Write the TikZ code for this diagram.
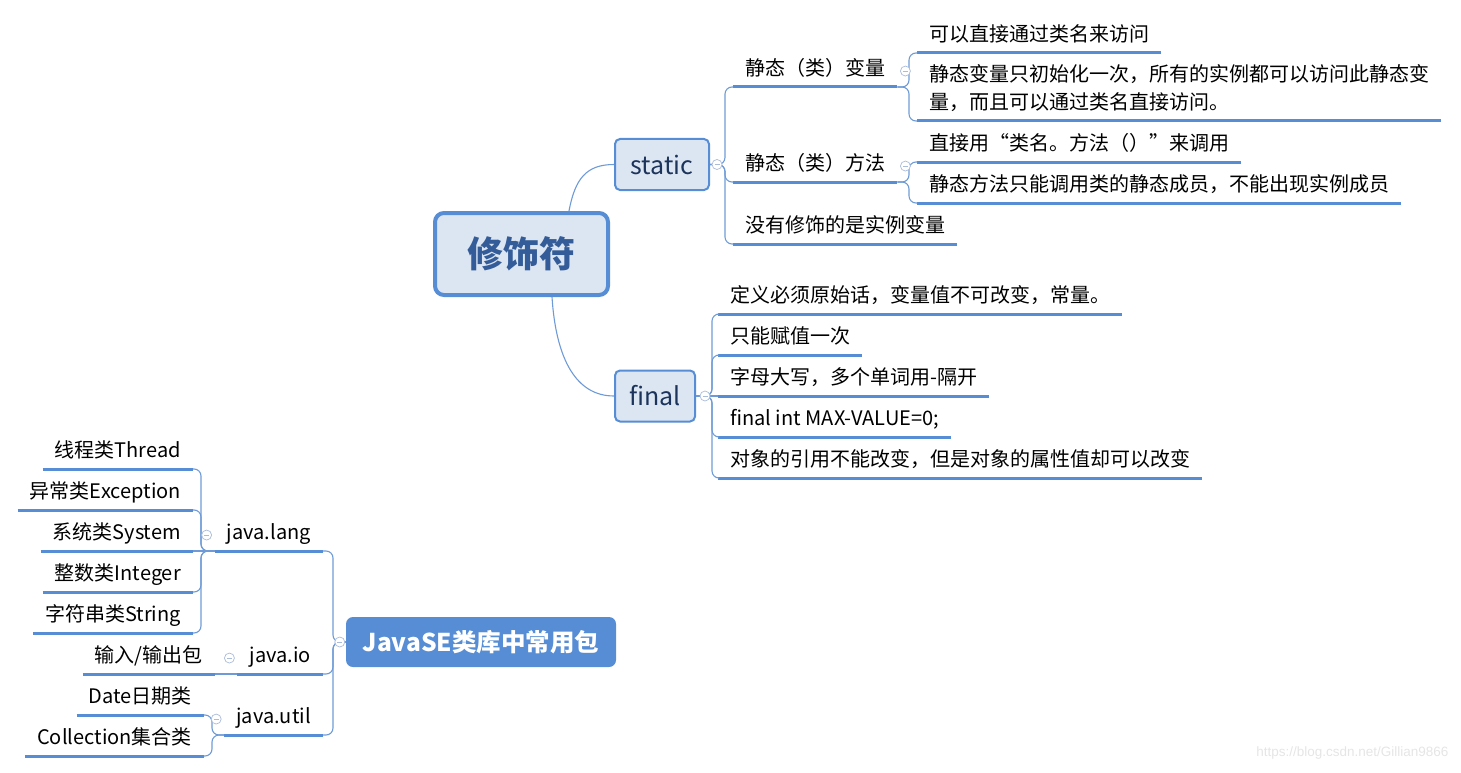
\documentclass[tikz,border=0pt]{standalone}
\usepackage{fontspec}
\setmainfont{Noto Sans CJK SC}
\newfontfamily\wmfont{Liberation Sans}
\usetikzlibrary{positioning, calc}

\definecolor{mapblue}{RGB}{86,141,212}
\definecolor{linkblue}{RGB}{110,155,215}
\definecolor{boxfill}{RGB}{220,230,242}
\definecolor{navy}{RGB}{28,52,92}
\definecolor{rootink}{RGB}{52,92,152}
\definecolor{foldgray}{RGB}{170,188,218}

\begin{document}
\begin{tikzpicture}[x=1pt, y=-1pt,
  topic/.style={draw=mapblue, fill=boxfill, line width=2pt, rounded corners=5pt,
               minimum height=51pt, text=navy, font=\fontsize{25}{30}\selectfont},
  leaf/.style={inner xsep=12pt, inner ysep=6pt, text height=14pt, text depth=5.5pt,
               align=left, font=\fontsize{20}{28}\selectfont},
  rleaf/.style={leaf, anchor=south west},
  lleaf/.style={leaf, anchor=south east},
  uline/.style={draw=mapblue, line width=3pt},
  link/.style={draw=linkblue, line width=1.1pt, rounded corners=7pt},
  fold/.style={circle, draw=foldgray, fill=white, line width=0.7pt, minimum size=10pt,
               inner sep=0pt, path picture={\draw[foldgray, line width=0.7pt]
               ([xshift=-2.5pt]path picture bounding box.center) --
               ([xshift=2.5pt]path picture bounding box.center);}}]
  \useasboundingbox (0,0) rectangle (1461,773);

  % main topics
  \node[draw=mapblue, fill=boxfill, line width=4pt, rounded corners=9pt,
        minimum width=173pt, minimum height=82pt, text=rootink,
        font=\bfseries\fontsize{36}{42}\selectfont] (root) at (521.5,254) {修饰符};
  \node[topic, minimum width=94pt] (static) at (662,164.5) {static};
  \node[topic, minimum width=80pt] (final) at (655,396) {final};
  \node[fill=mapblue, rounded corners=7pt, minimum width=270pt, minimum height=50pt,
        text=white, font=\bfseries\fontsize{24.5}{28}\selectfont] (javase) at (481,642) {JavaSE类库中常用包};

  % static branch
  \node[rleaf] (svar)   at (733,87)  {静态（类）变量};
  \node[rleaf] (smeth)  at (733,182) {静态（类）方法};
  \node[rleaf] (sinst)  at (733,244) {没有修饰的是实例变量};
  \node[rleaf] (svar1)  at (917,53)  {可以直接通过类名来访问};
  \node[rleaf] (svar2)  at (917,121) {静态变量只初始化一次，所有的实例都可以访问此静态变\\量，而且可以通过类名直接访问。};
  \node[rleaf] (smeth1) at (917,162) {直接用“类名。方法（）”来调用};
  \node[rleaf] (smeth2) at (917,203) {静态方法只能调用类的静态成员，不能出现实例成员};

  % final branch
  \node[rleaf] (fin1) at (718,314) {定义必须原始话，变量值不可改变，常量。};
  \node[rleaf] (fin2) at (718,355) {只能赋值一次};
  \node[rleaf] (fin3) at (718,396) {字母大写，多个单词用-隔开};
  \node[rleaf] (fin4) at (718,437) {final int MAX-VALUE=0;};
  \node[rleaf] (fin5) at (718,478) {对象的引用不能改变，但是对象的属性值却可以改变};

  % package branch
  \node[lleaf] (jlang) at (323,551) {java.lang};
  \node[lleaf] (jio)   at (323,674) {java.io};
  \node[lleaf] (jutil) at (323,735) {java.util};
  \node[lleaf] (thread)    at (193,469) {线程类Thread};
  \node[lleaf] (exception) at (193,510) {异常类Exception};
  \node[lleaf] (system)    at (193,551) {系统类System};
  \node[lleaf] (integer)   at (193,592) {整数类Integer};
  \node[lleaf] (string)    at (193,633) {字符串类String};
  \node[lleaf] (iobag) at (215,674) {输入/输出包};
  \node[lleaf] (date)  at (204,715) {Date日期类};
  \node[lleaf] (coll)  at (204,756) {Collection集合类};

  \foreach \n in {svar,smeth,sinst,svar1,svar2,smeth1,smeth2,fin1,fin2,fin3,fin4,fin5,
                  jlang,jio,jutil,thread,exception,system,integer,string,iobag,date,coll}
     \draw[uline] (\n.south west) -- (\n.south east);

  % connectors
  \draw[link] ([xshift=-41pt]root.north east) .. controls +(6,-32) and +(-28,0) .. (static.west);
  \draw[link] ([xshift=-58pt]root.south east) .. controls +(4,62) and +(-38,0) .. (final.west);
  \foreach \c in {svar,smeth,sinst}
     \draw[link] (static.east) -| ([xshift=-8pt]\c.south west) -- (\c.south west);
  \foreach \c in {svar1,svar2}
     \draw[link] (svar.south east) -| ([xshift=-8pt]\c.south west) -- (\c.south west);
  \foreach \c in {smeth1,smeth2}
     \draw[link] (smeth.south east) -| ([xshift=-8pt]\c.south west) -- (\c.south west);
  \foreach \c in {fin1,fin2,fin4,fin5}
     \draw[link] (final.east) -| ([xshift=-6pt]\c.south west) -- (\c.south west);
  \draw[link] (final.east) -- (fin3.south west);
  \foreach \c in {jlang,jio,jutil}
     \draw[link] (javase.west) -| ([xshift=10pt]\c.south east) -- (\c.south east);
  \foreach \c in {thread,exception,integer,string}
     \draw[link] (jlang.south west) -| ([xshift=8pt]\c.south east) -- (\c.south east);
  \draw[link] (jlang.south west) -- (system.south east);
  \draw[link] (jio.south west) -- (iobag.south east);
  \foreach \c in {date,coll}
     \draw[link] (jutil.south west) -| ([xshift=8pt]\c.south east) -- (\c.south east);

  % fold markers
  \node[fold] at ([xshift=7pt]static.east) {};
  \node[fold] at ([xshift=9pt]final.east) {};
  \node[fold] at ([xshift=8pt]svar.east) {};
  \node[fold] at ([xshift=8pt]smeth.east) {};
  \node[fold] at ([xshift=-6pt]javase.west) {};
  \node[fold] at ([xshift=-8pt]jlang.west) {};
  \node[fold] at ([xshift=-8pt]jio.west) {};
  \node[fold] at ([xshift=-8pt]jutil.west) {};

  \node[anchor=east, text=black!10, font=\wmfont\fontsize{13.5}{16}\selectfont] (mark)
     at (1452,753) {https://blog.csdn.net/Gillian9866};
\end{tikzpicture}
\end{document}
